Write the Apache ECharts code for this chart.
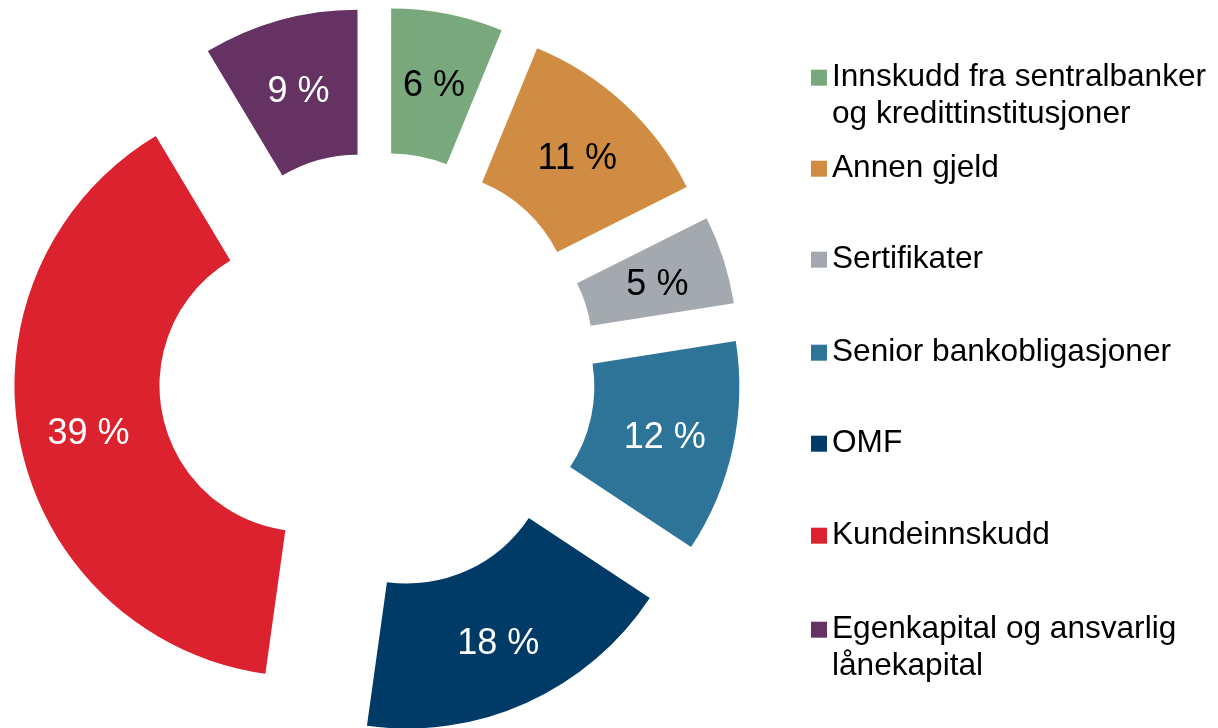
<!DOCTYPE html>
<html><head><meta charset="utf-8">
<script src="https://cdn.jsdelivr.net/npm/echarts@6/dist/echarts.min.js"></script>
<style>html,body{margin:0;padding:0;background:#fff}#c{width:1218px;height:728px}</style>
</head><body><div id="c"></div>
<script>
// Data
const categories = [
  'Innskudd fra sentralbanker\nog kredittinstitusjoner',
  'Annen gjeld',
  'Sertifikater',
  'Senior bankobligasjoner',
  'OMF',
  'Kundeinnskudd',
  'Egenkapital og ansvarlig\nlånekapital'
];
const values = [6.2, 11.4, 4.9, 11.8, 17.9, 39.2, 8.6];
const colors = ['#79a87d', '#cf8c42', '#a3a9af', '#2e7499', '#003a66', '#dc222e', '#643263'];
const labelColors = ['#000', '#000', '#000', '#fff', '#fff', '#fff', '#fff'];
const legendCenters = [75, 166, 257, 350, 441, 533, 627];

const FONT = '"Liberation Sans", Arial, sans-serif';
const FS = 31.6, LH = 37;

const chart = echarts.init(document.getElementById('c'), null, {renderer: 'canvas'});
chart.setOption({
  animation: false,
  backgroundColor: '#fff',
  legend: categories.map((name, i) => {
    const two = name.indexOf('\n') >= 0;
    return {
      orient: 'vertical',
      left: 811,
      top: legendCenters[i] - FS / 2 - (two ? LH : 0),
      padding: 0,
      itemWidth: 16,
      itemHeight: 16,
      itemGap: 0,
      icon: 'rect',
      selectedMode: false,
      data: [name],
      formatter: n => (two ? '\n' + n : n),
      textStyle: {fontSize: FS, lineHeight: LH, color: '#000', fontFamily: FONT}
    };
  }),
  series: [{
    type: 'pie',
    center: [377, 371],
    radius: [146, 291],
    startAngle: 90,
    clockwise: true,
    selectedMode: 'multiple',
    selectedOffset: 73,
    avoidLabelOverlap: false,
    emphasis: {disabled: true},
    itemStyle: {borderWidth: 0},
    labelLine: {show: false},
    label: {
      show: true,
      position: 'inside',
      fontSize: 36,
      fontFamily: FONT,
      padding: [9, 0, 0, 0],
      formatter: p => '{v|' + Math.round(p.value) + ' %}',
      rich: {v: {fontSize: 36, fontFamily: FONT, lineHeight: 40}}
    },
    data: categories.map((name, i) => ({
      name: name,
      value: values[i],
      selected: true,
      itemStyle: {color: colors[i]},
      label: {color: labelColors[i]}
    }))
  }]
});
</script></body></html>
